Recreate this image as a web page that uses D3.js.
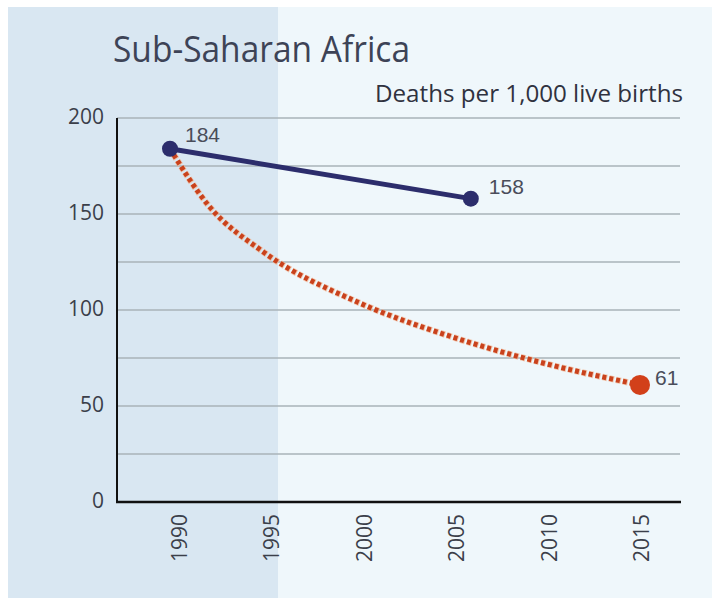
<!DOCTYPE html>
<html>
<head>
<meta charset="utf-8">
<script src="https://cdn.jsdelivr.net/npm/d3@7"></script>
<style>
  body { margin: 0; background: #fff; }
  svg { display: block; }
  .tick-label { font-family: "Open Sans", sans-serif; font-size: 21px; fill: #3b3f4a; }
  .value-label { font-family: "Liberation Sans", Arial, sans-serif; font-size: 21px; fill: #4a4d5a; }
</style>
</head>
<body>
<script>
// chart data
const title = 'Sub-Saharan Africa';
const unitLabel = 'Deaths per 1,000 live births';
const yTicks = [0, 50, 100, 150, 200];
const gridValues = [25, 50, 75, 100, 125, 150, 175, 200];
const xTickYears = [1990, 1995, 2000, 2005, 2010, 2015];

// actual trend
const actualYears = [1990, 2006];
const actualValues = [184, 158];

// path needed to reach the target
const targetYears = [1990, 1992, 1995, 2000, 2005, 2010, 2015];
const targetValues = [184, 155, 130, 104, 86, 72, 61];

const width = 720, height = 606;

const svg = d3.select('body').append('svg')
  .attr('width', width)
  .attr('height', height);

// MARK: - background panels
svg.append('rect')
  .attr('x', 8).attr('y', 7)
  .attr('width', 704).attr('height', 591)
  .attr('fill', '#eff7fb');
svg.append('rect')
  .attr('x', 8).attr('y', 7)
  .attr('width', 270).attr('height', 591)
  .attr('fill', '#d9e7f2');

// MARK: - scales
const x = d3.scaleLinear().domain([1990, 2015]).range([170, 640]);
const xLabel = d3.scaleLinear().domain([1990, 2015]).range([179, 641]);
const y = d3.scaleLinear().domain([0, 200]).range([502, 118]);

const axisLeft = 117, axisRight = 681;

// gridlines
svg.append('g')
  .selectAll('line')
  .data(gridValues)
  .join('line')
  .attr('x1', axisLeft).attr('x2', axisRight - 1)
  .attr('y1', d => y(d)).attr('y2', d => y(d))
  .attr('stroke', '#a9b3b8')
  .attr('stroke-width', 1.5);

// axes
svg.append('line')
  .attr('x1', axisLeft).attr('x2', axisLeft)
  .attr('y1', y(200)).attr('y2', y(0))
  .attr('stroke', '#111').attr('stroke-width', 2);
svg.append('line')
  .attr('x1', axisLeft - 1).attr('x2', axisRight)
  .attr('y1', y(0)).attr('y2', y(0))
  .attr('stroke', '#111').attr('stroke-width', 2.5);

// y tick labels
svg.append('g')
  .selectAll('text')
  .data(yTicks)
  .join('text')
  .attr('class', 'tick-label')
  .attr('x', 104)
  .attr('y', d => y(d))
  .attr('dy', '0.3em')
  .attr('text-anchor', 'end')
  .text(d => d);

// x tick labels, rotated
svg.append('g')
  .selectAll('text')
  .data(xTickYears)
  .join('text')
  .attr('class', 'tick-label')
  .attr('text-anchor', 'end')
  .attr('transform', d => `translate(${xLabel(d) + 8},514) rotate(-90)`)
  .text(d => d);

// MARK: - lines
const line = d3.line()
  .x(d => x(d[0]))
  .y(d => y(d[1]));

const targetData = d3.zip(targetYears, targetValues);
const actualData = d3.zip(actualYears, actualValues);

svg.append('path')
  .datum(targetData)
  .attr('d', line.curve(d3.curveMonotoneX))
  .attr('fill', 'none')
  .attr('stroke', '#f2b48f')
  .attr('stroke-width', 6.5)
  .attr('stroke-dasharray', '5 2')
  .attr('opacity', 0.7);
svg.append('path')
  .datum(targetData)
  .attr('d', line.curve(d3.curveMonotoneX))
  .attr('fill', 'none')
  .attr('stroke', '#c9421d')
  .attr('stroke-width', 5)
  .attr('stroke-dasharray', '4 3');

svg.append('path')
  .datum(actualData)
  .attr('d', line.curve(d3.curveLinear))
  .attr('fill', 'none')
  .attr('stroke', '#2c2d6c')
  .attr('stroke-width', 5)
  .attr('stroke-linecap', 'round');

// end points
svg.append('g')
  .selectAll('circle')
  .data(actualData)
  .join('circle')
  .attr('cx', d => x(d[0]))
  .attr('cy', d => y(d[1]))
  .attr('r', 8)
  .attr('fill', '#2c2d6c');

svg.append('circle')
  .attr('cx', x(targetYears[targetYears.length - 1]))
  .attr('cy', y(targetValues[targetValues.length - 1]))
  .attr('r', 10)
  .attr('fill', '#d2401a');

// value labels
const valueLabels = [
  {year: actualYears[0], value: actualValues[0], dx: 15, dy: -7},
  {year: actualYears[1], value: actualValues[1], dx: 18, dy: -5},
  {year: targetYears[targetYears.length - 1], value: targetValues[targetValues.length - 1], dx: 15, dy: 0}
];
svg.append('g')
  .selectAll('text')
  .data(valueLabels)
  .join('text')
  .attr('class', 'value-label')
  .attr('x', d => x(d.year) + d.dx)
  .attr('y', d => y(d.value) + d.dy)
  .text(d => d.value);

// MARK: - titles
svg.append('text')
  .attr('x', 113).attr('y', 62)
  .attr('font-family', '"Open Sans", sans-serif')
  .attr('font-size', 36)
  .attr('textLength', 297)
  .attr('lengthAdjust', 'spacingAndGlyphs')
  .attr('fill', '#3d4356')
  .text(title);

svg.append('text')
  .attr('x', 683).attr('y', 102)
  .attr('text-anchor', 'end')
  .attr('font-family', '"Open Sans", sans-serif')
  .attr('font-size', 23)
  .attr('textLength', 308)
  .attr('lengthAdjust', 'spacingAndGlyphs')
  .attr('fill', '#2f3240')
  .text(unitLabel);
</script>
</body>
</html>
